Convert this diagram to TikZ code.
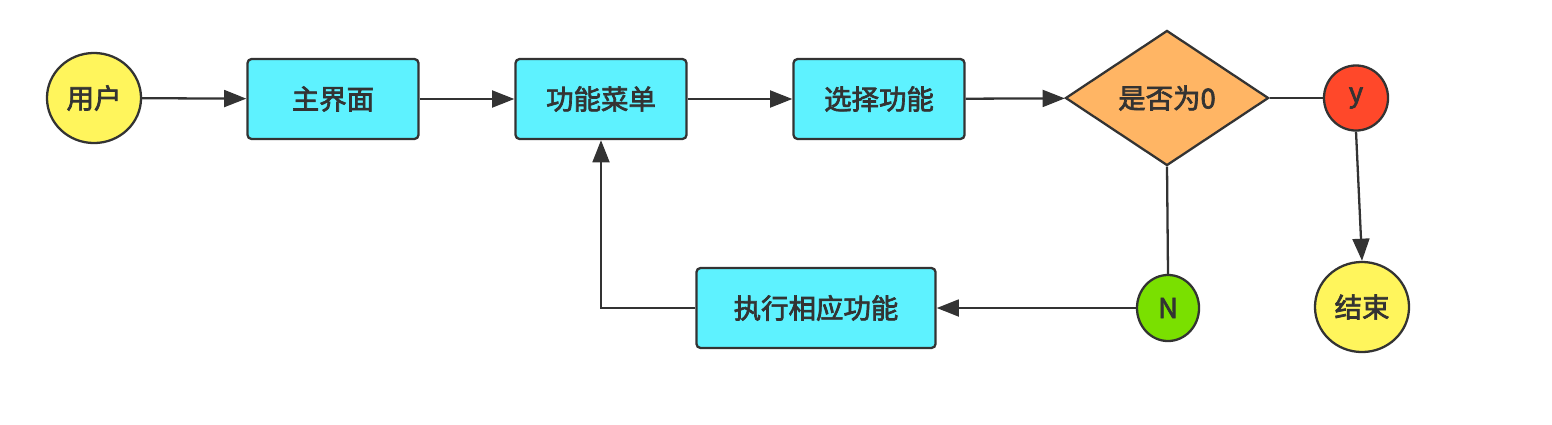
\documentclass[tikz,border=0pt]{standalone}
\usepackage{fontspec}
\newfontfamily\cjk[BoldFont={Noto Sans CJK SC}, BoldFeatures={FakeBold=2.5}]{Noto Sans CJK SC}
\usepackage{xcolor}
\usetikzlibrary{arrows.meta, positioning, shapes.geometric}
\definecolor{flowline}{RGB}{51, 51, 51}
\definecolor{boxcyan}{RGB}{94, 242, 255}
\definecolor{termyellow}{RGB}{255, 245, 92}
\definecolor{decorange}{RGB}{255, 181, 100}
\definecolor{yesred}{RGB}{255, 72, 42}
\definecolor{nogreen}{RGB}{122, 224, 0}

\begin{document}
\begin{tikzpicture}[
  x=0.01cm, y=-0.01cm,
  every node/.style={font=\cjk\bfseries\fontsize{7.8}{9}\selectfont, text=flowline},
  term/.style={ellipse, draw=flowline, line width=0.65pt, fill=termyellow, minimum width=0.94cm, minimum height=0.90cm, inner sep=0pt},
  box/.style={draw=flowline, line width=0.65pt, fill=boxcyan, rounded corners=1.2pt, minimum width=1.71cm, minimum height=0.80cm, inner sep=0pt},
  decide/.style={diamond, draw=flowline, line width=0.65pt, fill=decorange, minimum width=2.03cm, minimum height=1.35cm, inner sep=0pt},
  answer/.style={ellipse, draw=flowline, line width=0.65pt, inner sep=0pt},
  arrow/.style={-{Triangle[length=6.3pt, width=4.8pt]}, line width=0.65pt, color=flowline},
  link/.style={line width=0.65pt, color=flowline}
]
  \useasboundingbox (0,0) rectangle (1552,424);

  % Hauptzeile
  \node[term] (user) at (94, 98) {用户};
  \node[box] (main) at (333, 99) {主界面};
  \node[box] (menu) at (601, 99) {功能菜单};
  \node[box] (select) at (879, 99) {选择功能};
  \node[decide] (zero) at (1167, 98) {是否为0};
  \node[answer, fill=yesred, minimum width=0.64cm, minimum height=0.65cm] (yes) at (1356, 98) {y};

  % Unterzeile
  \node[term] (end) at (1362, 307) {结束};
  \node[answer, fill=nogreen, minimum width=0.62cm, minimum height=0.66cm] (no) at (1168, 308) {N};
  \node[box, minimum width=2.39cm] (exec) at (816, 308) {执行相应功能};

  \draw[arrow] (user) -- (main);
  \draw[arrow] (main) -- (menu);
  \draw[arrow] (menu) -- (select);
  \draw[arrow] (select) -- (zero);
  \draw[link] (zero.east) -- (yes.west);
  \draw[arrow] (yes.south) -- (end.north);
  \draw[link] (zero.south) -- (no.north);
  \draw[arrow] (no) -- (exec);
  \draw[arrow] (exec.west) -| (menu.south);

\end{tikzpicture}
\end{document}
